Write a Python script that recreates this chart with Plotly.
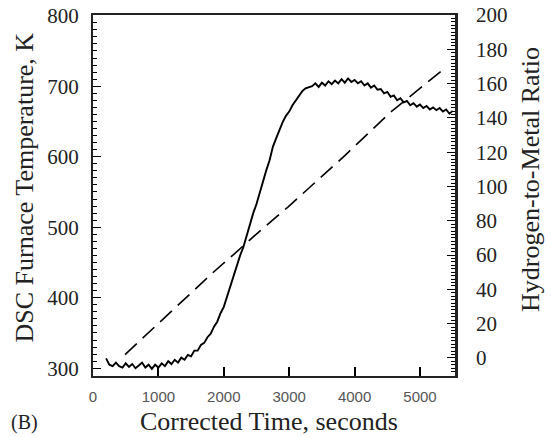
import plotly.graph_objects as go

# Furnace temperature trace (left axis)
time_s = list(range(200, 5501, 50))
temp_k = [
    314, 305, 303, 308, 303, 301, 307, 302, 306, 300,
    304, 308, 301, 305, 299, 305, 301, 307, 303, 310,
    306, 312, 308, 315, 312, 319, 317, 325, 325, 333,
    336, 344, 349, 359, 366, 378, 387, 402, 414, 431,
    444, 460, 472, 489, 503, 520, 533, 550, 564, 581,
    595, 614, 626, 639, 649, 658, 664, 673, 680, 687,
    693, 697, 699, 700, 704, 699, 705, 701, 707, 703,
    708, 704, 710, 705, 711, 706, 709, 704, 707, 701,
    704, 698, 701, 695, 696, 690, 692, 685, 687, 680,
    683, 677, 679, 673, 676, 671, 674, 669, 672, 667,
    670, 666, 669, 664, 667, 661, 665,
]

# Hydrogen-to-metal ratio trace (right axis)
ratio_t = [490, 1840, 2140, 2520, 2980, 3850, 4540, 5380]
ratio = [2, 50, 60, 73, 88, 118, 143, 169]

x_ticks = [0, 1000, 2000, 3000, 4000, 5000]

SERIF = "Liberation Serif, Times New Roman, serif"
SANS = "Liberation Sans, Arial, sans-serif"

fig = go.Figure()
fig.add_trace(go.Scatter(
    x=time_s, y=temp_k, mode="lines", yaxis="y",
    line=dict(color="black", width=1.9), showlegend=False,
))
fig.add_trace(go.Scatter(
    x=ratio_t, y=ratio, mode="lines", yaxis="y2",
    line=dict(color="black", width=1.6, dash="16px,8px"), showlegend=False,
))

fig.update_layout(
    width=551, height=437,
    margin=dict(l=93, r=96, t=15, b=61, autoexpand=False),
    paper_bgcolor="white", plot_bgcolor="white",
    xaxis=dict(
        range=[0, 5535], tickvals=x_ticks,
        ticks="inside", ticklen=9, tickwidth=1.5, tickcolor="black",
        showline=True, linecolor="#222", linewidth=2, mirror=True,
        showgrid=False, zeroline=False,
        tickfont=dict(family=SANS, size=15, color="#555"),
        ticklabelstandoff=6,
    ),
    yaxis=dict(
        range=[289, 801], tick0=300, dtick=100,
        ticks="inside", ticklen=8, tickwidth=1.2, tickcolor="black",
        minor=dict(dtick=10, ticks="inside", ticklen=4, tickcolor="black", tickwidth=1),
        showline=True, linecolor="#222", linewidth=2,
        showgrid=False, zeroline=False,
        tickfont=dict(family=SERIF, size=21, color="#222"),
        ticklabelstandoff=8,
    ),
    yaxis2=dict(
        range=[-10.5, 200], tick0=0, dtick=20, overlaying="y", side="right",
        ticks="inside", ticklen=8, tickwidth=1.2, tickcolor="black",
        minor=dict(dtick=2, ticks="inside", ticklen=4, tickcolor="black", tickwidth=1),
        showline=True, linecolor="#222", linewidth=2.5,
        showgrid=False, zeroline=False,
        tickfont=dict(family=SERIF, size=21, color="#222"),
        ticklabelstandoff=14,
    ),
    annotations=[
        dict(text="DSC Furnace Temperature, K", xref="paper", yref="paper",
             x=-0.188, y=0.522, xanchor="center", yanchor="middle", textangle=-90,
             showarrow=False, font=dict(family=SERIF, size=26, color="#222")),
        dict(text="Hydrogen-to-Metal Ratio", xref="paper", yref="paper",
             x=1.21, y=0.543, xanchor="center", yanchor="middle", textangle=-90,
             showarrow=False, font=dict(family=SERIF, size=26, color="#222")),
        dict(text="Corrected Time, seconds", xref="paper", yref="paper",
             x=0.486, y=-0.127, xanchor="center", yanchor="middle",
             showarrow=False, font=dict(family=SERIF, size=26, color="#222")),
        dict(text="(B)", xref="paper", yref="paper",
             x=-0.188, y=-0.130, xanchor="center", yanchor="middle",
             showarrow=False, font=dict(family=SERIF, size=20, color="#222")),
    ],
)

fig.write_html(
    "out.html",
    config={"displayModeBar": False},
    post_script="document.body.style.margin='0';document.body.style.overflow='hidden';",
)
